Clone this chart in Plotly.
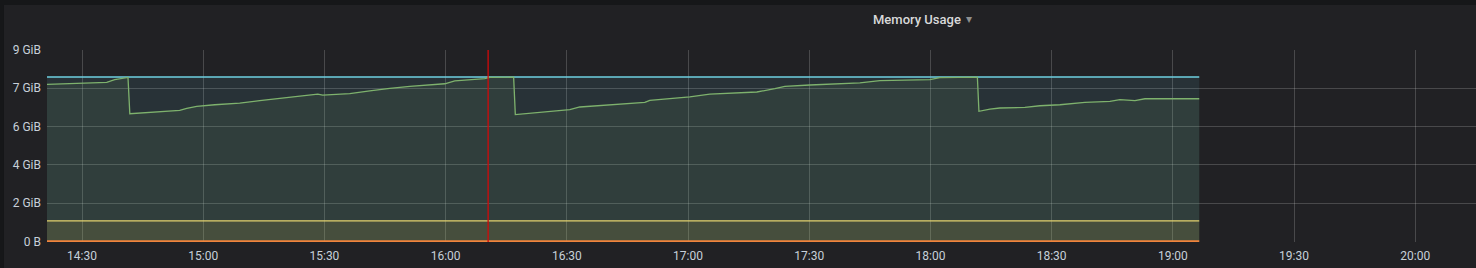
import plotly.graph_objects as go

DAY = "2019-03-14 "

# Green series: used memory (GiB)
used_times = [
    "14:21:20", "14:30:00", "14:36:07", "14:38:06", "14:41:23", "14:41:50",
    "14:45:02", "14:49:14", "14:54:11", "14:55:55", "14:58:24", "15:02:51",
    "15:09:02", "15:13:59", "15:18:56", "15:23:54", "15:28:21", "15:29:35",
    "15:36:16", "15:41:13", "15:46:11", "15:51:08", "15:59:47", "16:02:16",
    "16:05:59", "16:09:42", "16:10:56", "16:16:50", "16:17:15", "16:23:19",
    "16:30:44", "16:33:13", "16:40:38", "16:49:18", "16:50:32", "17:00:26",
    "17:05:23", "17:17:02", "17:21:29", "17:23:58", "17:30:09", "17:42:32",
    "17:47:29", "17:59:52", "18:02:20", "18:07:17", "18:11:37", "18:12:00",
    "18:14:44", "18:17:11", "18:23:23", "18:27:06", "18:32:03", "18:38:14",
    "18:44:26", "18:46:54", "18:50:37", "18:53:05", "19:06:32",
]
used_gib = [
    7.64, 7.71, 7.74, 7.87, 7.98, 6.21,
    6.25, 6.33, 6.37, 6.47, 6.57, 6.65,
    6.73, 6.85, 6.96, 7.08, 7.17, 7.12,
    7.19, 7.32, 7.45, 7.54, 7.67, 7.81,
    7.87, 7.92, 7.98, 7.99, 6.17, 6.28,
    6.41, 6.54, 6.65, 6.76, 6.86, 7.03,
    7.17, 7.27, 7.43, 7.54, 7.61, 7.71,
    7.82, 7.87, 7.97, 7.99, 7.99, 6.33,
    6.44, 6.49, 6.52, 6.60, 6.65, 6.76,
    6.81, 6.90, 6.85, 6.94, 6.94,
]

# Constant series (GiB)
span_times = ["14:21:20", "19:06:32"]
limit_gib = [8.0, 8.0]
request_gib = [1.0, 1.0]
swap_gib = [0.0, 0.0]

annotation_time = "16:10:31"

x_range = ["14:21:20", "20:15:02"]
tick_bytes = [0, 2e9, 4e9, 6e9, 8e9, 10e9]
tick_labels = ["0 B", "2 GiB", "4 GiB", "6 GiB", "7 GiB", "9 GiB"]

GIB = 2 ** 30
tick_gib = [b / GIB for b in tick_bytes]

BG_OUT = "#161719"
BG = "#212124"
GRID = "rgba(255,255,255,0.18)"
TXT = "#c7d0d9"
FONT = "Roboto"

def ts(lst):
    return [DAY + t for t in lst]

fig = go.Figure()

series = [
    (span_times, limit_gib, "#6ED0E0", 1.6, "rgba(110,208,224,0.10)"),
    (used_times, used_gib, "#7EB26D", 1.3, "rgba(126,178,109,0.10)"),
    (span_times, request_gib, "#E3D26E", 1.4, "rgba(234,200,74,0.12)"),
    (span_times, swap_gib, "#EF843C", 2.2, "rgba(239,132,60,0.10)"),
]
for t, v, c, w, fc in series:
    fig.add_trace(go.Scatter(
        x=ts(t), y=v, mode="lines",
        line=dict(color=c, width=w),
        fill="tozeroy", fillcolor=fc,
        hoverinfo="skip", showlegend=False,
    ))

shapes = [
    dict(type="rect", xref="paper", yref="paper",
         x0=-0.0301, x1=1.0, y0=-0.2, y1=1.234,
         fillcolor=BG, line=dict(width=0), layer="below"),
    dict(type="line", xref="x", yref="paper",
         x0=DAY + annotation_time, x1=DAY + annotation_time, y0=0, y1=1,
         line=dict(color="#D10A0A", width=1.3)),
]

annotations = [
    dict(text="Memory Usage", xref="paper", yref="paper",
         x=(917 - 47) / 1429, y=(242 - 19) / 192, xanchor="center", yanchor="middle",
         showarrow=False, font=dict(family=FONT, size=13, color="#d8d9da", weight=500)),
    dict(text="▾", xref="paper", yref="paper",
         x=(969 - 47) / 1429, y=(242 - 19) / 192, xanchor="center", yanchor="middle",
         showarrow=False, font=dict(family=FONT, size=12, color="#8e8e8e")),
]

fig.update_layout(
    width=1476, height=268,
    margin=dict(l=47, r=0, t=50, b=26),
    paper_bgcolor=BG_OUT, plot_bgcolor=BG,
    font=dict(family=FONT, size=12, color=TXT),
    shapes=shapes, annotations=annotations,
    showlegend=False,
)
fig.update_xaxes(
    type="date", range=ts(x_range),
    dtick=30 * 60 * 1000, tick0=DAY + "14:30:00", tickformat="%H:%M",
    showgrid=True, gridcolor=GRID, gridwidth=1,
    zeroline=False, showline=False, ticks="", ticklabelstandoff=5,
    tickfont=dict(family=FONT, size=12, color=TXT),
)
fig.update_yaxes(
    range=[-0.03, 10e9 / GIB],
    tickmode="array", tickvals=tick_gib, ticktext=tick_labels,
    showgrid=True, gridcolor=GRID, gridwidth=1,
    zeroline=False, showline=False, ticks="", ticklabelstandoff=5,
    tickfont=dict(family=FONT, size=12, color=TXT),
)

fig.write_html("out.html", config=dict(displayModeBar=False))
